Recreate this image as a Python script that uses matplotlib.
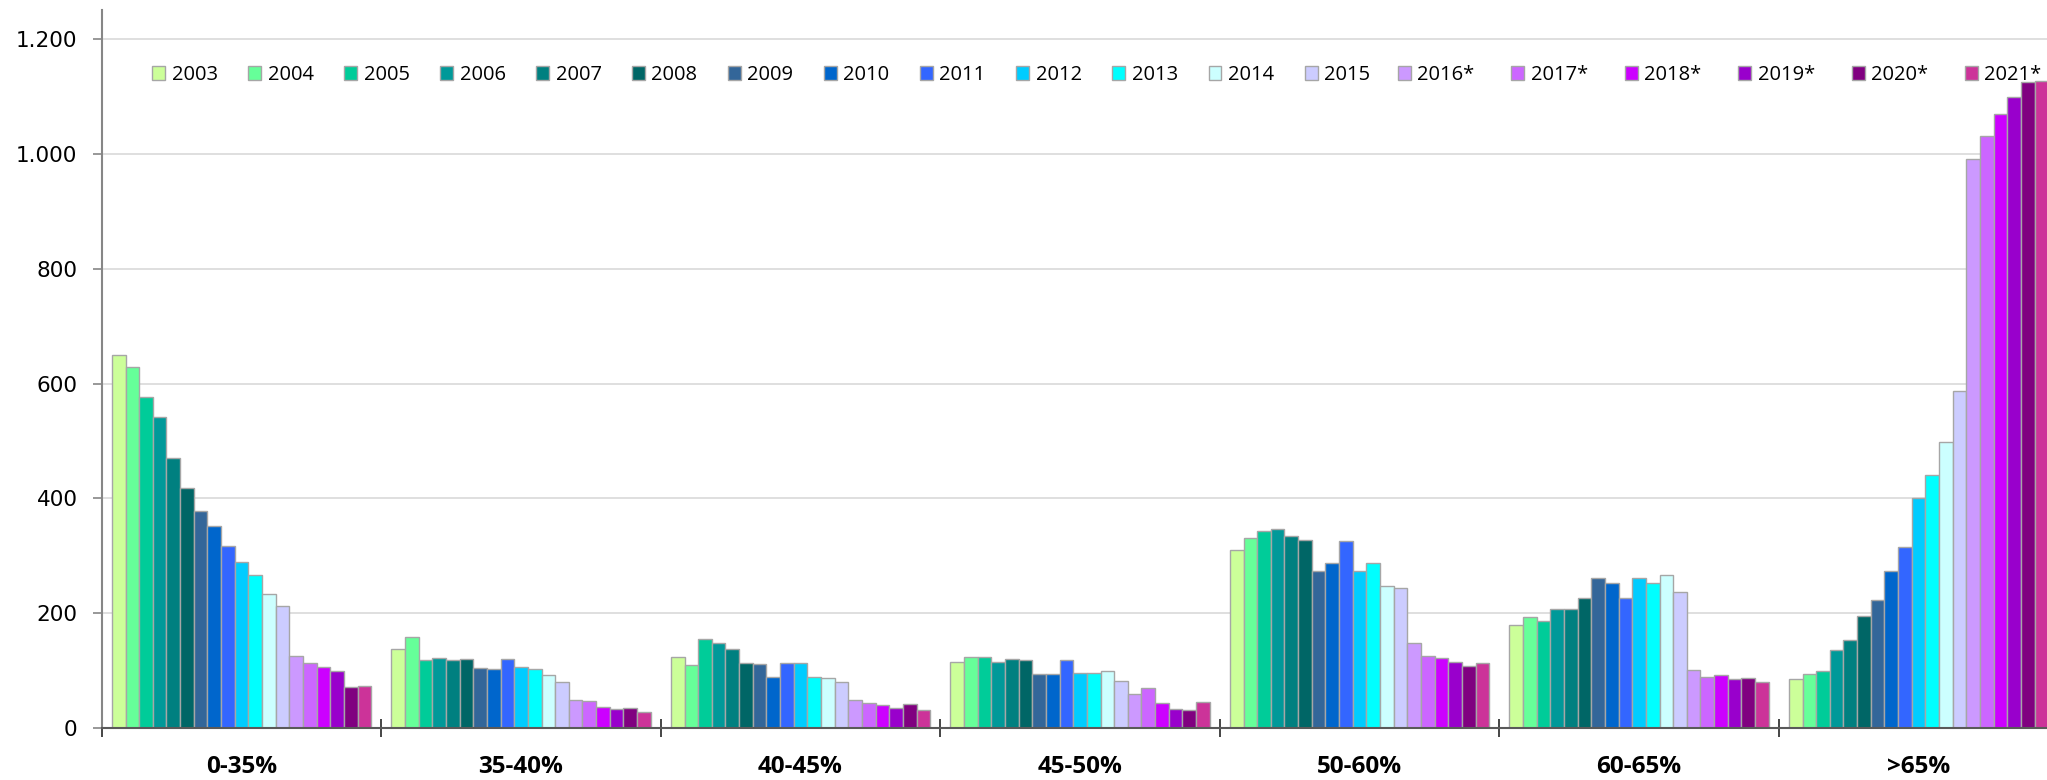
import matplotlib
matplotlib.use("Agg")
import matplotlib.pyplot as plt
from matplotlib.ticker import FuncFormatter, FixedLocator, NullFormatter
import numpy as np

# categories and years
categories = ["0-35%", "35-40%", "40-45%", "45-50%", "50-60%", "60-65%", ">65%"]
years = ["2003", "2004", "2005", "2006", "2007", "2008", "2009", "2010", "2011", "2012",
         "2013", "2014", "2015", "2016*", "2017*", "2018*", "2019*", "2020*", "2021*"]
colors = ["#CCFF99", "#66FF99", "#00CC99", "#009999", "#008080", "#006666", "#336699",
          "#0066CC", "#3366FF", "#00CCFF", "#00FFFF", "#CCFFFF", "#CCCCFF", "#CC99FF",
          "#CC66FF", "#CC00FF", "#9900CC", "#800080", "#CC3399"]

# values per category, one per year (2003..2021*)
g_0_35 = [650, 629, 577, 541, 471, 419, 378, 352, 318, 289, 267, 233, 212, 125, 114, 107, 99, 72, 74]
g_35_40 = [138, 159, 119, 122, 119, 121, 105, 104, 121, 106, 104, 93, 81, 49, 48, 37, 34, 35, 29]
g_40_45 = [124, 110, 156, 148, 138, 113, 112, 89, 113, 113, 90, 88, 81, 50, 44, 41, 35, 42, 31]
g_45_50 = [115, 124, 124, 115, 121, 119, 95, 95, 119, 96, 96, 100, 82, 59, 70, 44, 33, 31, 46]
g_50_60 = [310, 332, 343, 347, 334, 327, 274, 287, 326, 274, 288, 248, 245, 148, 126, 122, 116, 108, 113]
g_60_65 = [180, 194, 187, 207, 207, 227, 262, 252, 227, 262, 252, 267, 238, 101, 89, 93, 86, 88, 81]
g_65_up = [85, 94, 99, 136, 153, 195, 224, 274, 316, 400, 441, 499, 587, 991, 1031, 1069, 1099, 1125, 1127]

groups = [g_0_35, g_35_40, g_40_45, g_45_50, g_50_60, g_60_65, g_65_up]

W, H = 2047, 780
fig = plt.figure(figsize=(W / 100, H / 100), dpi=100)
# plot area runs a bit past the right edge, as in the original
ax = fig.add_axes([101.8 / W, 51.7 / H, 1956.5 / W, 718.3 / H])

x = np.arange(len(categories))
w = 0.04884
bars = []
for i, yr in enumerate(years):
    vals = [g[i] for g in groups]
    b = ax.bar(x + (i - 9) * w, vals, width=w, color=colors[i], edgecolor="#a6a6a6",
               linewidth=1.0, label=yr, zorder=2)
    bars.append(b)

ax.set_xlim(-0.5, len(categories) - 0.5)
ax.set_ylim(0, 1250)
ax.set_yticks(range(0, 1201, 200))
ax.yaxis.set_major_formatter(FuncFormatter(lambda v, p: f"{int(v):,}".replace(",", ".")))
ax.yaxis.grid(True, color="#d9d9d9", linewidth=1.2)
ax.set_axisbelow(True)

ax.xaxis.set_major_locator(FixedLocator(np.arange(-0.5, len(categories), 1.0)))
ax.xaxis.set_major_formatter(NullFormatter())
ax.xaxis.set_minor_locator(FixedLocator(x))
ax.set_xticklabels(categories, minor=True)
ax.tick_params(axis="x", which="major", direction="inout", length=13, width=1.2, color="#262626")
ax.tick_params(axis="x", which="minor", length=0, pad=19)
for lab in ax.get_xticklabels(minor=True):
    lab.set_fontfamily("Open Sans")
    lab.set_fontweight("bold")
    lab.set_fontsize(17.5)

ax.tick_params(axis="y", direction="out", length=6.5, width=1.2, color="#868686",
               pad=11, labelsize=15.5)

for s in ["top", "right"]:
    ax.spines[s].set_visible(False)
ax.spines["left"].set_color("#868686")
ax.spines["left"].set_linewidth(1.5)
ax.spines["bottom"].set_color("#595959")
ax.spines["bottom"].set_linewidth(1.5)

# legend in two parts: plain years and starred years have different spacing
leg_kw = dict(loc="center left", frameon=False, borderpad=0, borderaxespad=0,
              handlelength=0.64, handleheight=0.64, handletextpad=0.32,
              prop={"family": "Open Sans", "size": 14.5})
n_plain = 13
fig.legend(bars[:n_plain], years[:n_plain], ncol=n_plain,
           bbox_to_anchor=(152.3 / W, 1 - 75 / H), columnspacing=1.52, **leg_kw)
fig.legend(bars[n_plain:], years[n_plain:], ncol=len(years) - n_plain,
           bbox_to_anchor=(1398 / W, 1 - 75 / H), columnspacing=1.83, **leg_kw)

fig.savefig("out.png", dpi=100)
